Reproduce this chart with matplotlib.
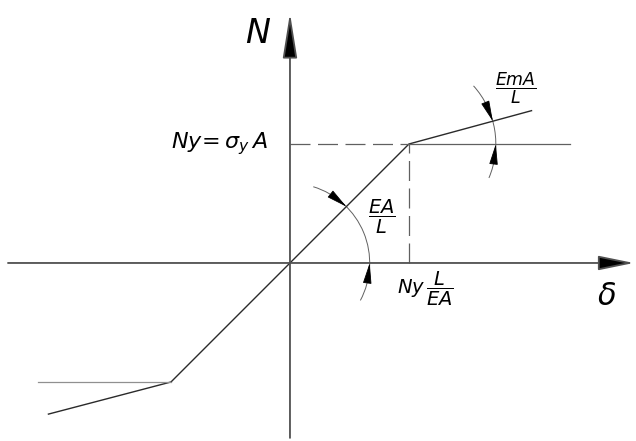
import numpy as np
import matplotlib
matplotlib.use('Agg')
import matplotlib.pyplot as plt
from matplotlib.patches import Arc

plt.rcParams['mathtext.fontset'] = 'custom'
plt.rcParams['mathtext.rm'] = 'DejaVu Sans:italic'
plt.rcParams['mathtext.it'] = 'DejaVu Sans:italic'
plt.rcParams['mathtext.sf'] = 'DejaVu Sans:italic'

# bilinear force-displacement law (normalised: delta_y = 1, N_y = 1)
delta_curve = [-2.03, -1.0, 0.0, 1.0, 2.03]
N_curve = [-1.27, -1.0, 0.0, 1.0, 1.28]

# horizontal reference lines through the yield points
ref_pos_x = [1.0, 2.35]
ref_neg_x = [-2.12, -1.0]
delta_y = 1.0
N_y = 1.0

# axis extent
x_axis = (-2.37, 2.89)
y_axis = (-1.47, 2.10)

# angle marks (radius, start angle, end angle)
arc_elastic = (0.67, -28, 73)
arc_hard = (0.73, -23, 42)


def arc_arrow(ax, cx, cy, r, ang_from, ang_to):
    a0, a1 = np.radians(ang_from), np.radians(ang_to)
    ax.annotate('', xy=(cx + r * np.cos(a1), cy + r * np.sin(a1)),
                xytext=(cx + r * np.cos(a0), cy + r * np.sin(a0)),
                arrowprops=dict(arrowstyle='-|>,head_length=1.3,head_width=0.27',
                                mutation_scale=10, color='black', lw=0.6,
                                shrinkA=0, shrinkB=0))


fig = plt.figure(figsize=(6.36, 4.41), dpi=100)
ax = fig.add_axes([0, 0, 1, 1])
ax.set_xlim(-2.437, 2.908)
ax.set_ylim(-1.496, 2.21)
ax.axis('off')

# axes with arrows
ax.annotate('', xy=(x_axis[1], 0), xytext=(x_axis[0], 0),
            arrowprops=dict(arrowstyle='-|>,head_length=2.2,head_width=0.45',
                            mutation_scale=10, color='#505050', lw=1.3,
                            shrinkA=0, shrinkB=0, fc='black', ec='#505050'))
ax.annotate('', xy=(0, y_axis[1]), xytext=(0, y_axis[0]),
            arrowprops=dict(arrowstyle='-|>,head_length=2.8,head_width=0.45',
                            mutation_scale=10, color='#505050', lw=1.3,
                            shrinkA=0, shrinkB=0, fc='black', ec='#505050'))

# curve
ax.plot(delta_curve, N_curve, color='#2a2a2a', lw=1.0, solid_joinstyle='miter')
ax.plot(ref_pos_x, [N_y, N_y], color='#606060', lw=0.9)
ax.plot(ref_neg_x, [-N_y, -N_y], color='#909090', lw=0.9)

# dashed projections
ax.plot([0, delta_y], [N_y, N_y], color='#606060', lw=0.9, dashes=(16, 6))
ax.plot([delta_y, delta_y], [0, N_y], color='#606060', lw=0.9, dashes=(16, 6))

# angle arcs
r, t1, t2 = arc_elastic
ax.add_patch(Arc((0, 0), 2 * r, 2 * r, theta1=t1, theta2=t2, color='#606060', lw=0.7))
arc_arrow(ax, 0, 0, r, 58, 45)
arc_arrow(ax, 0, 0, r, -14, 0)

r, t1, t2 = arc_hard
slope_ang = np.degrees(np.arctan2(N_curve[4] - N_curve[3], delta_curve[4] - delta_curve[3]))
ax.add_patch(Arc((delta_y, N_y), 2 * r, 2 * r, theta1=t1, theta2=t2, color='#606060', lw=0.7))
arc_arrow(ax, delta_y, N_y, r, slope_ang + 13, slope_ang)
arc_arrow(ax, delta_y, N_y, r, -13, 0)

# labels
ax.text(-0.27, 1.93, 'N', fontsize=24, style='italic', ha='center', va='center')
ax.text(2.66, -0.28, r'$\delta$', fontsize=22, ha='center', va='center')
ax.text(-0.19, 1.0, r'$Ny\!=\sigma_{y}\,A$', fontsize=16, ha='right', va='center')
ax.text(0.775, 0.385, r'$\dfrac{EA}{L}$', fontsize=14, ha='center', va='center')
ax.text(1.90, 1.47, r'$\dfrac{EmA}{L}$', fontsize=12.5, ha='center', va='center')
ax.text(0.90, -0.22, r'$Ny\,\dfrac{L}{EA}$', fontsize=14, ha='left', va='center')

fig.savefig('out.png', dpi=100)
